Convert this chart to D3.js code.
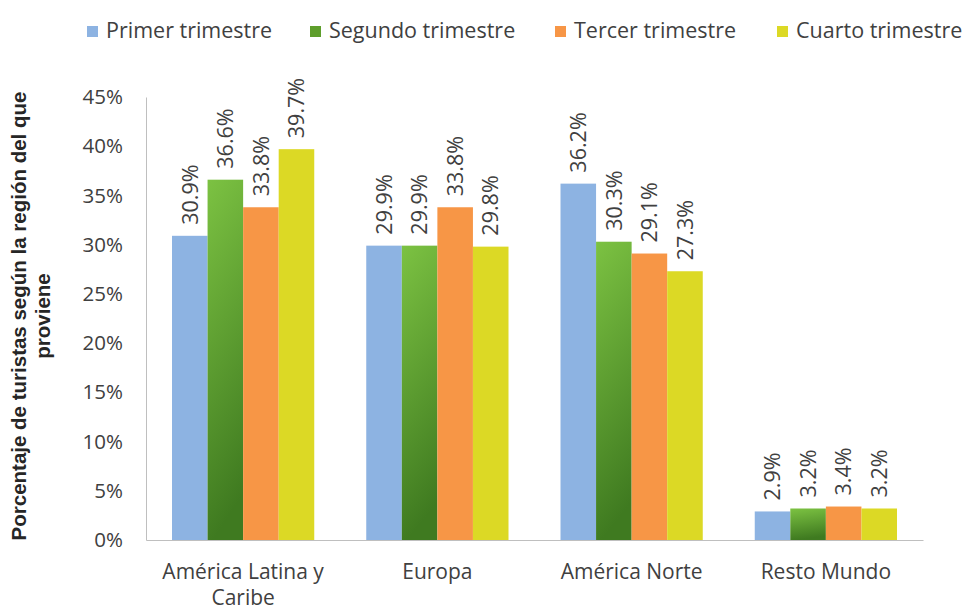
<!DOCTYPE html>
<html><head><meta charset="utf-8">
<script src="https://cdn.jsdelivr.net/npm/d3@7"></script>
<style>body{margin:0;background:#fff}svg{display:block}</style>
</head><body>
<script>
const categories = [["América Latina y","Caribe"],["Europa"],["América Norte"],["Resto Mundo"]];
const seriesNames = ["Primer trimestre","Segundo trimestre","Tercer trimestre","Cuarto trimestre"];
const primer  = [30.9, 29.9, 36.2, 2.9];
const segundo = [36.6, 29.9, 30.3, 3.2];
const tercer  = [33.8, 33.8, 29.1, 3.4];
const cuarto  = [39.7, 29.8, 27.3, 3.2];
const yTicks = [0,5,10,15,20,25,30,35,40,45];
const seriesValues = [primer, segundo, tercer, cuarto];
const colors = ["#8db3e2", "url(#greenGrad)", "#f79646", "#dcd925"];
const legendColors = ["#8db3e2", "#5e9e2c", "#f79646", "#dcd925"];

const W = 968, H = 611;
const svg = d3.select("body").append("svg").attr("width", W).attr("height", H);
const defs = svg.append("defs");
const g1 = defs.append("linearGradient").attr("id","greenGrad").attr("x1",0).attr("y1",0).attr("x2",0.15).attr("y2",1);
g1.append("stop").attr("offset","0%").attr("stop-color","#7cc242");
g1.append("stop").attr("offset","100%").attr("stop-color","#3f7a20");

const mLeft = 146, mRight = 923, mTop = 97, mBottom = 540;
const y = d3.scaleLinear().domain([0,45]).range([mBottom, mTop]);
const x0 = d3.scaleBand().domain(d3.range(categories.length)).range([mLeft, mRight]).paddingInner(0).paddingOuter(0);
const x1 = d3.scaleBand().domain(d3.range(seriesNames.length)).range([26, x0.bandwidth()-26]).padding(0);

const font = "'Open Sans', Lato, sans-serif";
const txt = "#404040";

// y axis
const yAxis = svg.append("g").attr("transform", `translate(${mLeft},0)`)
  .call(d3.axisLeft(y).tickValues(yTicks).tickSize(0).tickPadding(23).tickFormat(d => d + "%"));
yAxis.select(".domain").attr("stroke", "#bfbfbf");
yAxis.selectAll("text").attr("font-family", font).attr("font-size", 20.5).attr("fill", txt);

// bars
seriesValues.forEach((vals, si) => {
  svg.append("g").selectAll("rect").data(vals).join("rect")
    .attr("x", (d,i) => x0(i) + x1(si))
    .attr("y", d => y(d))
    .attr("width", x1.bandwidth())
    .attr("height", d => mBottom - y(d))
    .attr("fill", colors[si]);
  svg.append("g").selectAll("text").data(vals).join("text")
    .attr("transform", (d,i) => `translate(${x0(i) + x1(si) + x1.bandwidth()/2},${y(d) - 11}) rotate(-90)`)
    .attr("dy", "0.36em")
    .attr("font-family", font).attr("font-size", 21.5).attr("fill", txt)
    .text(d => d.toFixed(1) + "%");
});

// x axis
const xAxis = svg.append("g").attr("transform", `translate(0,${mBottom})`)
  .call(d3.axisBottom(x0).tickSize(0).tickFormat(""));
xAxis.select(".domain").attr("stroke", "#bfbfbf");
categories.forEach((lines, i) => {
  const cx = x0(i) + x0.bandwidth()/2;
  const t = svg.append("text").attr("x", cx).attr("y", 579)
    .attr("text-anchor","middle").attr("font-family", font).attr("font-size", 21).attr("fill", txt);
  lines.forEach((l, li) => t.append("tspan").attr("x", cx).attr("dy", li ? 26 : 0).text(l));
});

// y title
const yt = svg.append("text").attr("transform", "translate(26,316) rotate(-90)")
  .attr("text-anchor","middle").attr("font-family", "'Liberation Sans', Arial, sans-serif").attr("font-weight","bold").attr("font-size",20.5).attr("fill","#262626");
yt.append("tspan").attr("x",0).attr("dy",0).text("Porcentaje de turistas según la región del que");
yt.append("tspan").attr("x",0).attr("dy",24).text("proviene");

// legend
const legX = [87, 310, 555, 777];
const leg = svg.append("g");
seriesNames.forEach((n, i) => {
  leg.append("rect").attr("x", legX[i]).attr("y", 26).attr("width", 11).attr("height", 11).attr("fill", legendColors[i]);
  leg.append("text").attr("x", legX[i] + 19).attr("y", 38).attr("font-family", font).attr("font-size", 21.5).attr("fill", txt).text(n);
});
</script>
</body></html>
